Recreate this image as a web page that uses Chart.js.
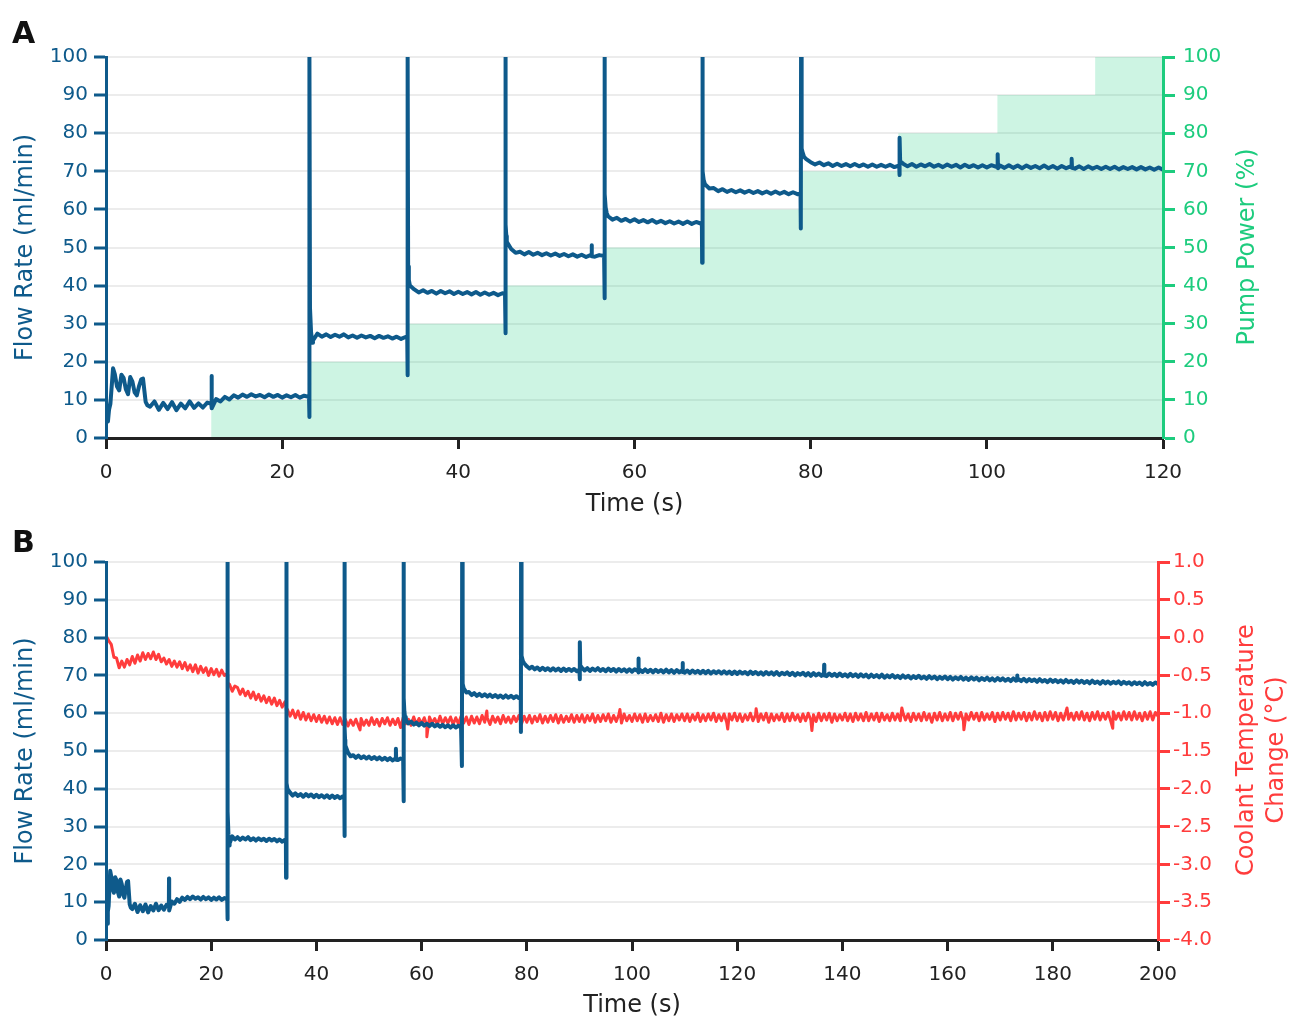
<!DOCTYPE html>
<html>
<head>
<meta charset="utf-8">
<title>Flow rate, pump power and coolant temperature</title>
<script src="https://cdn.jsdelivr.net/npm/chart.js@4.4.1/dist/chart.umd.min.js"></script>
<style>
  html, body { margin: 0; padding: 0; background: #ffffff; overflow: hidden; }
  #wrap { position: relative; width: 1292px; height: 1016px; }
  #wrap canvas { position: absolute; left: 0; }
  #panelA { top: 0; }
  #panelB { top: 520px; }
</style>
</head>
<body>
<div id="wrap">
  <canvas id="panelA" width="1292" height="520"></canvas>
  <canvas id="panelB" width="1292" height="520"></canvas>
</div>
<script>
// ---- Logged data -------------------------------------------------------
// Flow meter and coolant thermometer are logged every half second, t = 0 ... 200 s.
const SAMPLE_INTERVAL_S = 0.5;

// Flow rate (ml/min), one value per logged sample (10 samples per row = 5 s).
const flowRate = [
  10, 9, 16.8, 12.5, 15.8, 11.5, 14.8, 11.2, 15.4, 9.5,
  8.2, 9.6, 7.4, 9.2, 7.6, 9.4, 7.3, 9.0, 7.8, 9.6,
  7.9, 9.1, 8.0, 9.3, 8.6, 10.2, 9.6, 10.8, 10.1, 11.2,
  10.6, 11.4, 10.8, 11.5, 10.9, 11.3, 10.7, 11.4, 10.8, 11.3,
  10.6, 11.2, 10.7, 11.3, 10.6, 11.1, 10.8, 25.6, 27.4, 26.6,
  27.2, 26.5, 27.1, 26.6, 27.2, 26.4, 26.9, 26.3, 26.9, 26.4,
  26.8, 26.2, 26.8, 26.3, 26.7, 26.1, 26.6, 26.0, 26.5, 40.0,
  39.0, 38.2, 38.8, 38.1, 38.6, 37.9, 38.6, 38.0, 38.5, 37.8,
  38.4, 37.8, 38.3, 37.7, 38.3, 37.6, 38.2, 37.6, 38.1, 37.5,
  38.0, 51.5, 49.6, 48.6, 48.9, 48.2, 48.8, 48.1, 48.6, 48.0,
  48.5, 47.9, 48.4, 47.8, 48.3, 47.7, 48.2, 47.6, 48.1, 47.5,
  48.0, 47.6, 48.0, 47.8, 58.2, 57.3, 57.8, 57.0, 57.5, 56.8,
  57.4, 56.7, 57.2, 56.6, 57.2, 56.5, 57.0, 56.4, 56.9, 56.3,
  56.8, 56.2, 56.8, 56.2, 56.7, 56.3, 66.6, 65.5, 65.6, 64.8,
  65.3, 64.6, 65.1, 64.5, 65.0, 64.4, 64.9, 64.3, 64.8, 64.2,
  64.7, 64.1, 64.7, 64.1, 64.6, 64.0, 64.5, 64.0, 76.0, 73.2,
  72.4, 71.8, 72.3, 71.6, 72.1, 71.4, 72.0, 71.4, 71.9, 71.3,
  71.9, 71.3, 71.8, 71.2, 71.8, 71.2, 71.7, 71.2, 71.7, 71.1,
  71.5, 72.0, 71.3, 71.9, 71.2, 71.8, 71.3, 71.9, 71.2, 71.7,
  71.1, 71.8, 71.2, 71.7, 71.0, 71.7, 71.1, 71.6, 71.0, 71.6,
  71.0, 71.6, 71.2, 71.5, 70.9, 71.6, 70.9, 71.5, 70.8, 71.5,
  70.9, 71.4, 70.8, 71.5, 70.8, 71.4, 70.7, 71.4, 70.8, 71.3,
  70.7, 71.3, 70.6, 71.3, 70.7, 71.2, 70.6, 71.2, 70.6, 71.2,
  70.5, 71.1, 70.6, 71.1, 70.5, 71.1, 70.5, 71.0, 70.4, 71.0,
  70.4, 71.0, 70.5, 70.9, 70.3, 71.0, 70.4, 70.9, 70.3, 70.8,
  70.2, 70.9, 70.3, 70.8, 70.2, 70.9, 70.1, 70.7, 70.3, 70.8,
  70.1, 70.7, 70.0, 70.6, 70.2, 70.7, 70.0, 70.6, 69.9, 70.6,
  70.0, 70.5, 69.9, 70.6, 69.8, 70.5, 69.9, 70.4, 69.8, 70.5,
  69.8, 70.3, 69.7, 70.4, 69.8, 70.3, 69.6, 70.3, 69.7, 70.2,
  69.5, 70.2, 69.6, 70.1, 69.5, 70.2, 69.4, 70.0, 69.5, 70.1,
  69.4, 69.9, 69.3, 70.0, 69.4, 69.9, 69.2, 69.8, 69.3, 69.9,
  69.2, 69.7, 69.1, 69.8, 69.2, 69.7, 69.0, 69.6, 69.1, 69.7,
  69.0, 69.6, 68.9, 69.5, 69.0, 69.6, 68.9, 69.4, 68.8, 69.5,
  68.9, 69.4, 68.7, 69.3, 68.8, 69.4, 68.7, 69.2, 68.6, 69.3,
  68.7, 69.2, 68.6, 69.1, 68.5, 69.2, 68.6, 69.0, 68.5, 69.1,
  68.4, 69.0, 68.5, 68.9, 68.3, 69.0, 68.4, 68.8, 68.2, 68.9,
  68.3, 68.8, 68.2, 68.7, 68.1, 68.8, 68.2, 68.6, 68.0, 68.7,
  68.1, 68.6, 68.0, 68.5, 67.9, 68.6, 68.0, 68.4, 67.8, 68.5,
  67.9, 68.4, 67.8, 68.3, 67.9, 68.4, 67.7, 68.3, 67.8, 68.2,
  67.6, 68.2, 67.7, 68.1, 67.5, 68.2, 67.6, 68.0, 67.5, 68.1,
  67.7
];

// Fast flow events captured between the half-second samples: [time (s), flow (ml/min)].
const flowEvents = [
  [0.12, 6.0], [0.22, 4.3], [0.35, 7.5], [0.8, 18.3], [1.25, 13.5], [1.75, 16.6],
  [2.25, 12.8], [2.75, 16.0], [3.25, 12.0], [3.75, 13.6], [4.2, 15.6], [4.7, 8.6],
  [11.95, 9.0], [11.98, 16.3], [12.02, 7.8],
  [23.05, 10.9], [23.08, 5.5], [23.11, 100], [23.16, 34], [23.28, 27.8], [23.42, 25.0],
  [34.2, 26.3], [34.23, 16.5], [34.26, 100], [34.3, 45], [34.38, 41.5],
  [45.3, 37.8], [45.33, 27.5], [45.36, 100], [45.4, 56], [45.45, 53],
  [55.1, 47.9], [55.13, 50.6], [55.17, 47.7],
  [56.55, 47.7], [56.58, 36.7], [56.61, 100], [56.65, 64], [56.72, 60.5], [56.85, 59.0],
  [67.65, 56.4], [67.68, 46.0], [67.71, 100], [67.75, 70], [67.85, 67.8],
  [78.85, 64.1], [78.88, 55.0], [78.91, 100], [78.95, 77.5], [79.05, 75.2], [79.25, 73.8],
  [90.05, 71.4], [90.08, 69.0], [90.11, 78.8], [90.16, 72.6],
  [101.2, 71.3], [101.23, 74.5], [101.27, 70.8],
  [109.6, 71.0], [109.63, 73.3], [109.67, 70.9],
  [136.5, 70.2], [136.53, 72.8], [136.57, 70.0],
  [173.2, 68.9], [173.23, 70.0], [173.27, 68.7]
];

// Coolant temperature change (°C), one value per logged sample.
const coolantChange = [
  0.03, -0.04, -0.09, -0.26, -0.27, -0.40, -0.31, -0.39, -0.29, -0.36,
  -0.25, -0.34, -0.23, -0.31, -0.20, -0.29, -0.21, -0.28, -0.19, -0.29,
  -0.22, -0.32, -0.27, -0.35, -0.29, -0.38, -0.31, -0.39, -0.32, -0.41,
  -0.33, -0.43, -0.36, -0.45, -0.36, -0.47, -0.38, -0.46, -0.40, -0.50,
  -0.41, -0.49, -0.42, -0.51, -0.43, -0.50, -0.48, -0.62, -0.71, -0.64,
  -0.66, -0.75, -0.68, -0.77, -0.71, -0.80, -0.72, -0.82, -0.75, -0.84,
  -0.77, -0.86, -0.79, -0.88, -0.80, -0.90, -0.83, -0.92, -0.85, -0.95,
  -1.04, -0.96, -1.06, -0.97, -1.08, -0.99, -1.09, -1.01, -1.10, -1.02,
  -1.11, -1.03, -1.12, -1.04, -1.13, -1.05, -1.14, -1.06, -1.15, -1.06,
  -1.15, -1.08, -1.17, -1.09, -1.16, -1.08, -1.17, -1.07, -1.16, -1.09,
  -1.16, -1.06, -1.15, -1.08, -1.17, -1.07, -1.14, -1.06, -1.16, -1.08,
  -1.15, -1.07, -1.19, -1.06, -1.14, -1.08, -1.16, -1.05, -1.15, -1.07,
  -1.14, -1.06, -1.16, -1.05, -1.13, -1.07, -1.15, -1.04, -1.14, -1.06,
  -1.13, -1.05, -1.15, -1.06, -1.14, -1.04, -1.13, -1.05, -1.15, -1.04,
  -1.13, -1.05, -1.14, -1.03, -1.12, -1.06, -1.15, -1.04, -1.12, -1.05,
  -1.14, -1.03, -1.12, -1.05, -1.13, -1.04, -1.11, -1.03, -1.14, -1.04,
  -1.12, -1.03, -1.13, -1.04, -1.11, -1.02, -1.13, -1.04, -1.12, -1.03,
  -1.11, -1.02, -1.13, -1.03, -1.12, -1.04, -1.11, -1.02, -1.12, -1.03,
  -1.11, -1.02, -1.12, -1.03, -1.10, -1.01, -1.12, -1.03, -1.11, -1.02,
  -1.10, -1.01, -1.12, -1.03, -1.11, -1.02, -1.13, -1.01, -1.10, -1.03,
  -1.11, -1.01, -1.10, -1.02, -1.12, -1.01, -1.11, -1.03, -1.10, -1.02,
  -1.11, -1.00, -1.12, -1.02, -1.10, -1.01, -1.11, -1.02, -1.09, -1.01,
  -1.10, -1.01, -1.11, -1.02, -1.09, -1.00, -1.11, -1.02, -1.10, -1.01,
  -1.09, -1.00, -1.11, -1.02, -1.10, -1.01, -1.12, -1.01, -1.09, -1.00,
  -1.10, -1.01, -1.11, -1.02, -1.09, -1.00, -1.10, -1.02, -1.11, -1.01,
  -1.09, -1.00, -1.12, -1.01, -1.10, -1.02, -1.09, -1.00, -1.11, -1.01,
  -1.10, -1.00, -1.09, -1.02, -1.11, -1.01, -1.10, -1.00, -1.09, -1.02,
  -1.11, -1.00, -1.10, -1.01, -1.09, -1.00, -1.12, -1.01, -1.10, -1.02,
  -1.09, -1.00, -1.10, -1.01, -1.11, -1.00, -1.09, -1.01, -1.10, -0.99,
  -1.10, -1.01, -1.09, -1.00, -1.11, -1.00, -1.09, -1.02, -1.10, -1.00,
  -1.09, -1.01, -1.10, -0.99, -1.09, -1.01, -1.11, -1.00, -1.09, -1.01,
  -1.10, -0.99, -1.09, -1.01, -1.12, -1.00, -1.09, -0.99, -1.10, -1.01,
  -1.09, -0.99, -1.10, -1.00, -1.08, -0.99, -1.10, -1.01, -1.09, -0.99,
  -1.08, -1.00, -1.10, -0.99, -1.09, -1.01, -1.08, -0.99, -1.11, -1.00,
  -1.09, -0.99, -1.08, -1.00, -1.10, -0.98, -1.09, -1.00, -1.08, -0.99,
  -1.10, -1.00, -1.09, -0.98, -1.08, -1.00, -1.10, -0.99, -1.09, -0.98,
  -1.08, -0.99, -1.10, -1.00, -1.09, -0.98, -1.08, -1.00, -1.09, -0.99,
  -1.08, -0.98, -1.09, -1.00, -1.10, -0.99, -1.08, -0.98, -1.09, -1.00,
  -1.08, -0.99, -1.10, -0.98, -1.08, -1.00, -1.09, -0.98, -1.08, -0.99,
  -1.09, -0.98, -1.08, -1.00, -1.10, -0.99, -1.08, -0.98, -1.09, -0.99,
  -1.04
];

// Temperature steps and outliers between samples: [time (s), change (°C)].
const coolantEvents = [
  [23.05, -0.49], [23.15, -0.60], [34.2, -0.88], [34.3, -0.97],
  [48.3, -1.22], [61.0, -1.31], [72.4, -0.97], [97.7, -0.95],
  [118.2, -1.21], [123.6, -0.94], [134.2, -1.23], [151.3, -0.93],
  [163.1, -1.22], [182.7, -0.93], [191.4, -1.20]
];

// Pump power set-points (%): [time the setting starts (s), power].
const pumpPower = [
  [0, 0], [11.95, 10], [23.05, 20], [34.2, 30], [45.3, 40], [56.55, 50],
  [67.65, 60], [78.85, 70], [89.95, 80], [101.2, 90], [112.3, 100], [120, 100]
];

// Axis ranges and tick spacing.
const timeRangeA = [0, 120];
const timeRangeB = [0, 200];
const timeStep = 20;
const flowRange = [0, 100];
const flowStep = 10;
const powerRange = [0, 100];
const powerStep = 10;
const tempRange = [-4, 1];
const tempStep = 0.5;

// ---- Styling ----------------------------------------------------------
const BLUE = '#0e5a8b';
const GREEN = '#1dcc7e';
const MINT = 'rgba(29, 204, 126, 0.22)';
const RED = '#ff3c3c';
const INK = '#222222';
const GRID = '#ececec';
const FONT = '"DejaVu Sans", Verdana, sans-serif';

Chart.defaults.font.family = FONT;
Chart.defaults.font.size = 20;

function toPoints(samples, events) {
  const pts = samples.map((v, i) => ({ x: i * SAMPLE_INTERVAL_S, y: v }));
  events.forEach(([x, y]) => pts.push({ x, y }));
  return pts.sort((a, b) => a.x - b.x);
}

const flowPoints = toPoints(flowRate, flowEvents);
const coolantPoints = toPoints(coolantChange, coolantEvents);
const pumpPoints = pumpPower.map(([x, y]) => ({ x, y }));

// Panel letter plus a right-hand axis title that reads bottom-to-top.
const panelText = {
  id: 'panelText',
  afterDraw(chart, args, o) {
    const ctx = chart.ctx;
    ctx.save();
    ctx.fillStyle = '#111111';
    ctx.font = 'bold 30px ' + FONT;
    ctx.textAlign = 'left';
    ctx.textBaseline = 'alphabetic';
    ctx.fillText(o.letter, o.letterX, o.letterY);
    ctx.translate(o.titleX, o.titleY);
    ctx.rotate(-Math.PI / 2);
    ctx.font = '24px ' + FONT;
    ctx.fillStyle = o.titleColor;
    ctx.textAlign = 'center';
    ctx.textBaseline = 'middle';
    const n = o.title.length;
    o.title.forEach((line, i) => ctx.fillText(line, 0, (i - (n - 1) / 2) * o.lineGap));
    ctx.restore();
  }
};

function timeAxis(range, height, titlePad) {
  return {
    type: 'linear', position: 'bottom', min: range[0], max: range[1],
    ticks: { stepSize: timeStep, color: INK, font: { size: 20 }, padding: 12, maxRotation: 0, autoSkip: false },
    grid: { drawOnChartArea: false, tickLength: 11, tickColor: INK, tickWidth: 3 },
    border: { color: INK, width: 3, z: 1 },
    title: { display: true, text: 'Time (s)', color: INK, font: { size: 24 }, padding: { top: 0, bottom: titlePad } },
    afterFit: (s) => { s.height = height; }
  };
}

function flowAxis() {
  return {
    type: 'linear', position: 'left', min: flowRange[0], max: flowRange[1],
    ticks: { stepSize: flowStep, color: BLUE, font: { size: 20 }, padding: 6 },
    grid: { color: GRID, lineWidth: 2, tickLength: 12, tickColor: BLUE, tickWidth: 3 },
    border: { color: BLUE, width: 3, z: 1 },
    title: { display: true, text: 'Flow Rate (ml/min)', color: BLUE, font: { size: 24 }, padding: { top: 11, bottom: 0 } },
    afterFit: (s) => { s.width = 106; }
  };
}

const common = {
  responsive: false,
  maintainAspectRatio: false,
  devicePixelRatio: 1,
  animation: false,
  events: [],
  plugins: { legend: { display: false }, tooltip: { enabled: false } }
};

// ---- Panel A: flow rate against pump power ------------------------------
new Chart(document.getElementById('panelA'), {
  type: 'line',
  data: {
    datasets: [
      {
        label: 'Flow Rate (ml/min)',
        data: flowPoints.filter(p => p.x <= timeRangeA[1]),
        yAxisID: 'y', borderColor: BLUE, borderWidth: 4, pointRadius: 0,
        borderJoinStyle: 'round', tension: 0, clip: 0
      },
      {
        label: 'Pump Power (%)',
        data: pumpPoints,
        yAxisID: 'y2', stepped: true, fill: 'origin', backgroundColor: MINT,
        borderColor: 'rgba(0,0,0,0)', borderWidth: 0, pointRadius: 0, clip: 0
      }
    ]
  },
  options: Object.assign({}, common, {
    layout: { padding: { top: 57, left: 0, right: 0, bottom: 0 } },
    scales: {
      x: timeAxis(timeRangeA, 82, 1),
      y: flowAxis(),
      y2: {
        type: 'linear', position: 'right', min: powerRange[0], max: powerRange[1],
        ticks: { stepSize: powerStep, color: GREEN, font: { size: 20 }, padding: 8 },
        grid: { drawOnChartArea: false, tickLength: 12, tickColor: GREEN, tickWidth: 3 },
        border: { color: GREEN, width: 3, z: 1 },
        title: { display: false },
        afterFit: (s) => { s.width = 129; }
      }
    },
    plugins: Object.assign({}, common.plugins, {
      panelText: { letter: 'A', letterX: 12, letterY: 43, title: ['Pump Power (%)'], titleColor: GREEN, titleX: 1248, titleY: 247, lineGap: 30 }
    })
  }),
  plugins: [panelText]
});

// ---- Panel B: flow rate against coolant temperature ---------------------
new Chart(document.getElementById('panelB'), {
  type: 'line',
  data: {
    datasets: [
      {
        label: 'Flow Rate (ml/min)',
        data: flowPoints,
        yAxisID: 'y', borderColor: BLUE, borderWidth: 4, pointRadius: 0,
        borderJoinStyle: 'round', tension: 0, clip: 0
      },
      {
        label: 'Coolant Temperature Change (°C)',
        data: coolantPoints,
        yAxisID: 'y2', borderColor: RED, borderWidth: 3, pointRadius: 0,
        borderJoinStyle: 'round', tension: 0, clip: 0
      }
    ]
  },
  options: Object.assign({}, common, {
    layout: { padding: { top: 42, left: 0, right: 0, bottom: 0 } },
    scales: {
      x: timeAxis(timeRangeB, 100, 20),
      y: flowAxis(),
      y2: {
        type: 'linear', position: 'right', min: tempRange[0], max: tempRange[1],
        ticks: { stepSize: tempStep, color: RED, font: { size: 20 }, padding: 3, callback: (v) => Number(v).toFixed(1) },
        grid: { drawOnChartArea: false, tickLength: 12, tickColor: RED, tickWidth: 3 },
        border: { color: RED, width: 3, z: 1 },
        title: { display: false },
        afterFit: (s) => { s.width = 134; }
      }
    },
    plugins: Object.assign({}, common.plugins, {
      panelText: { letter: 'B', letterX: 12, letterY: 32, title: ['Coolant Temperature', 'Change (°C)'], titleColor: RED, titleX: 1262, titleY: 230, lineGap: 30 }
    })
  }),
  plugins: [panelText]
});
</script>
</body>
</html>
